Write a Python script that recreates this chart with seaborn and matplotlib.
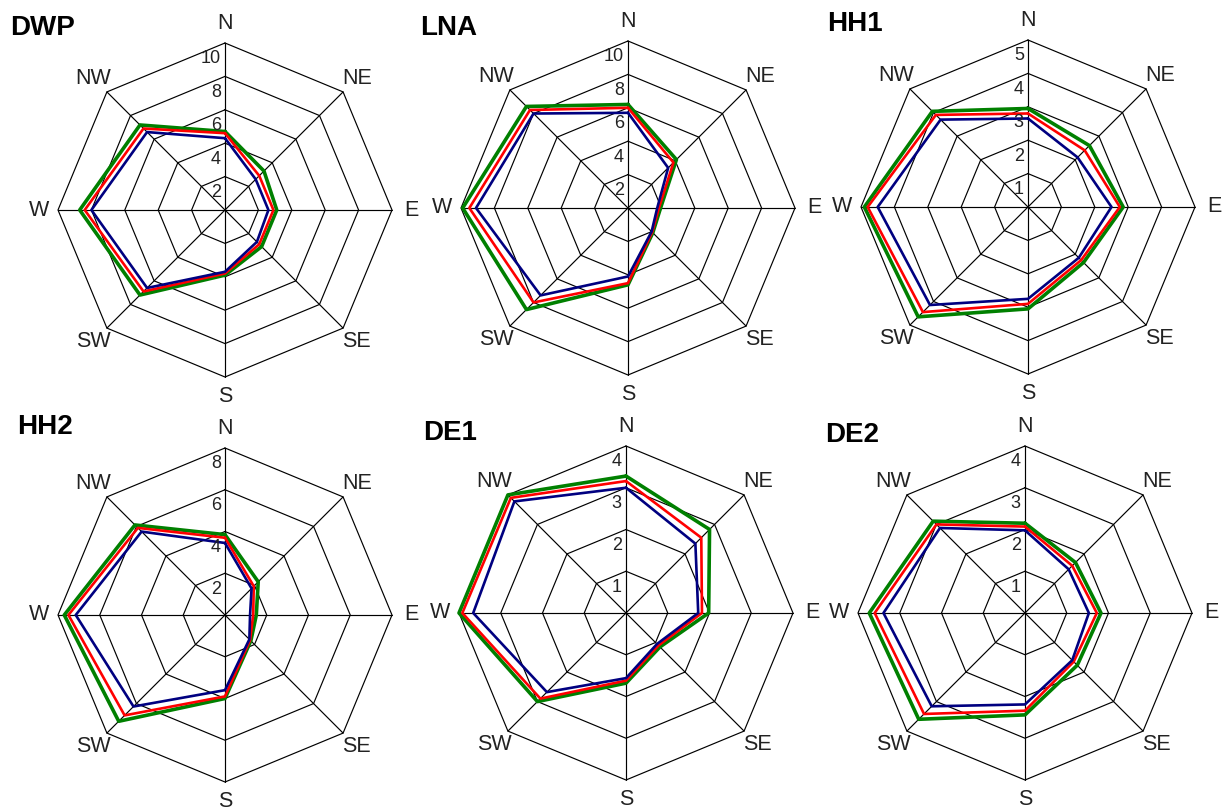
import numpy as np
import pandas as pd
import seaborn as sns
import matplotlib.pyplot as plt

# wind sectors, clockwise from north
directions = ['N', 'NE', 'E', 'SE', 'S', 'SW', 'W', 'NW']
stations = ['DWP', 'LNA', 'HH1', 'HH2', 'DE1', 'DE2']

# values per sector (green / red / blue lines)
dwp_green = [4.7, 3.3, 3.1, 3.1, 3.9, 7.2, 8.7, 7.2]
dwp_red = [4.6, 2.9, 2.9, 2.9, 3.8, 6.9, 8.4, 6.9]
dwp_blue = [4.3, 2.6, 2.6, 2.7, 3.7, 6.6, 8.0, 6.6]

lna_green = [6.2, 4.1, 1.95, 2.1, 4.6, 8.6, 9.9, 8.6]
lna_red = [6.0, 3.85, 1.85, 2.05, 4.5, 8.0, 9.5, 8.3]
lna_blue = [5.7, 3.4, 1.75, 2.0, 4.1, 7.4, 9.1, 8.0]

hh1_green = [2.95, 2.6, 2.85, 2.35, 3.05, 4.65, 4.9, 4.05]
hh1_red = [2.8, 2.4, 2.75, 2.25, 2.9, 4.45, 4.8, 3.9]
hh1_blue = [2.65, 2.1, 2.5, 2.15, 2.75, 4.15, 4.5, 3.7]

hh2_green = [3.85, 2.25, 1.5, 1.75, 4.0, 7.2, 7.7, 6.1]
hh2_red = [3.7, 1.95, 1.35, 1.7, 3.9, 6.8, 7.5, 5.9]
hh2_blue = [3.45, 1.8, 1.2, 1.65, 3.6, 6.2, 7.15, 5.65]

de1_green = [3.28, 2.83, 1.98, 1.15, 1.68, 3.0, 4.0, 4.0]
de1_red = [3.16, 2.55, 1.82, 1.1, 1.62, 2.9, 3.92, 3.9]
de1_blue = [3.0, 2.35, 1.73, 1.05, 1.56, 2.68, 3.66, 3.78]

de2_green = [2.15, 1.71, 1.82, 1.77, 2.44, 3.6, 3.73, 3.11]
de2_red = [2.07, 1.6, 1.72, 1.65, 2.34, 3.42, 3.6, 3.0]
de2_blue = [1.98, 1.48, 1.53, 1.6, 2.19, 3.16, 3.39, 2.88]

# radial scale of each panel
axis_max = [10, 10, 5, 8, 4, 4]
axis_step = [2, 2, 1, 2, 1, 1]

series = [
    (dwp_green, dwp_red, dwp_blue),
    (lna_green, lna_red, lna_blue),
    (hh1_green, hh1_red, hh1_blue),
    (hh2_green, hh2_red, hh2_blue),
    (de1_green, de1_red, de1_blue),
    (de2_green, de2_red, de2_blue),
]

# layout in pixels
W, H = 1223, 810
R = 167
centers = [(225, 210), (628, 208), (1028, 207), (225, 615), (626, 613), (1025, 613)]
title_pos = [(10, 28), (420, 28), (827, 24), (17, 427), (423, 433), (825, 435)]
line_styles = [('#008000', 2.6), ('#ff0000', 1.9), ('#000080', 1.9)]

sns.set_theme(style='white')
plt.rcParams['font.family'] = ['Liberation Sans', 'DejaVu Sans']

fig = plt.figure(figsize=(W / 100, H / 100), dpi=100)
fig.patch.set_facecolor('white')

angles = np.deg2rad(np.arange(len(directions)) * 45)
closed = np.append(angles, angles[0])

for name, vals3, rmax, step, (cx, cy), (tx, ty) in zip(
        stations, series, axis_max, axis_step, centers, title_pos):
    ax = fig.add_axes([(cx - R) / W, (H - cy - R) / H, 2 * R / W, 2 * R / H],
                      projection='polar')
    ax.set_theta_zero_location('N')
    ax.set_theta_direction(-1)
    ax.axis('off')

    # octagonal grid + spokes
    rings = np.arange(step, rmax + step / 2, step)
    for v in rings:
        ax.plot(closed, [v] * len(closed), color='black', lw=0.85, clip_on=False)
    for a in angles:
        ax.plot([a, a], [0, rmax], color='black', lw=0.85, clip_on=False)

    # the three series
    for vals, (color, lw) in zip(vals3, line_styles):
        df = pd.DataFrame({'theta': closed, 'r': list(vals) + [vals[0]]})
        sns.lineplot(data=df, x='theta', y='r', sort=False, estimator=None,
                     color=color, lw=lw, ax=ax, clip_on=False)

    ax.set_ylim(0, rmax)
    ax.axis('off')

    for a, d in zip(angles, directions):
        ax.text(a, rmax * 1.115, d, ha='center', va='center',
                fontsize=15.5, color='#222222')
    for v in rings:
        ax.annotate(f'{v:g}', xy=(0, v), xytext=(-3, -11.5),
                    textcoords='offset points', ha='right', va='center',
                    fontsize=13, color='#222222')

    fig.text(tx / W, 1 - ty / H, name, ha='left', va='center',
             fontsize=20, fontweight='bold', color='black')

fig.savefig('out.png', dpi=100, facecolor='white')
